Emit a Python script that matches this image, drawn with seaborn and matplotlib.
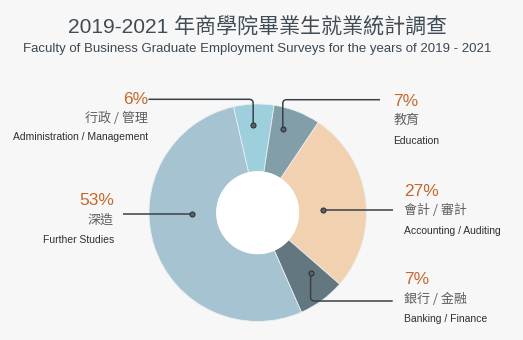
import numpy as np
import matplotlib
matplotlib.use("Agg")
import matplotlib.pyplot as plt
from matplotlib.path import Path
from matplotlib.patches import PathPatch, Circle
import seaborn as sns

# ---- data -------------------------------------------------------------
categories_en = ["Administration / Management", "Education", "Accounting / Auditing",
                 "Banking / Finance", "Further Studies"]
categories_zh = ["行政 / 管理", "教育", "會計 / 審計", "銀行 / 金融", "深造"]
shares = [6, 7, 27, 7, 53]
pct_labels = ["6%", "7%", "27%", "7%", "53%"]

title_zh = "2019-2021 年商學院畢業生就業統計調查"
subtitle_en = "Faculty of Business Graduate Employment Surveys for the years of 2019 - 2021"

# ---- style ------------------------------------------------------------
sns.set_theme(style="white")
palette = sns.color_palette(["#9dd0dc", "#819ea9", "#f2d1b0", "#637780", "#a5c3d0"])
CJK = ["Liberation Sans", "Noto Sans CJK TC", "DejaVu Sans"]
LATIN = ["Liberation Sans", "DejaVu Sans"]
plt.rcParams["font.family"] = CJK

W, H = 523, 340
fig = plt.figure(figsize=(W / 100, H / 100), dpi=100)
fig.patch.set_facecolor("#f7f7f7")
ax = fig.add_axes([0, 0, 1, 1])
ax.set_facecolor("#f7f7f7")


def Y(y):
    """Convert a top-down pixel row to the axis' bottom-up coordinate."""
    return H - y


# ---- donut ------------------------------------------------------------
cx, cy = 257.7, Y(212.7)
R_out, R_in = 108.7, 41.0
start = 102.9
ax.pie(shares, colors=palette, center=(cx, cy), radius=R_out,
       startangle=start, counterclock=False,
       wedgeprops=dict(width=R_out - R_in, linewidth=0.6, edgecolor="#e9eef0"))
ax.add_patch(Circle((cx, cy), R_in + 0.5, facecolor="white", edgecolor="none", zorder=3))

# position of each leader dot inside its slice: (fraction along the arc, radius fraction)
dot_pos = [(0.46, 0.81), (0.32, 0.80), (0.55, 0.60), (0.31, 0.74), (0.59, 0.60)]
total = float(sum(shares))
cum = np.concatenate([[0], np.cumsum(shares)])
dots = []
for i, (t, rf) in enumerate(dot_pos):
    a0 = start - 360 * cum[i] / total
    a1 = start - 360 * cum[i + 1] / total
    a = np.deg2rad(a0 + t * (a1 - a0))
    dots.append((cx + rf * R_out * np.cos(a), cy + rf * R_out * np.sin(a)))

LINE = "#3a4046"


def leader(points, r=4.0):
    """Polyline with rounded corners."""
    verts, codes = [points[0]], [Path.MOVETO]
    for k in range(1, len(points) - 1):
        p0, p1, p2 = map(np.array, points[k - 1:k + 2])
        d0 = (p1 - p0) / np.linalg.norm(p1 - p0)
        d1 = (p2 - p1) / np.linalg.norm(p2 - p1)
        verts += [tuple(p1 - d0 * r), tuple(p1), tuple(p1 + d1 * r)]
        codes += [Path.LINETO, Path.CURVE3, Path.CURVE3]
    verts.append(points[-1]); codes.append(Path.LINETO)
    ax.add_patch(PathPatch(Path(verts, codes), fill=False, lw=1.1,
                           edgecolor=LINE, zorder=4, capstyle="butt"))


d = dots
leader([d[0], (d[0][0], Y(99.3)), (148.5, Y(99.3))])
leader([d[1], (d[1][0], Y(99.7)), (380.0, Y(99.7))])
leader([d[2], (392.7, d[2][1])])
leader([d[3], (d[3][0], Y(301.0)), (392.7, Y(301.0))])
leader([d[4], (123.3, d[4][1])])
for (x, y) in dots:
    ax.plot(x, y, "o", ms=3.6, mfc="#5a6168", mec="#2e3338", mew=0.8, zorder=5)

# ---- labels -----------------------------------------------------------
label_pos = [  # (x, y of percent, y of chinese, y of english, alignment)
    (148.0, 100.0, 118.3, 137.3, "right"),
    (393.3, 101.7, 120.7, 140.7, "left"),
    (404.3, 191.7, 210.7, 231.0, "left"),
    (404.3, 280.0, 299.3, 319.3, "left"),
    (114.0, 200.7, 220.0, 240.0, "right"),
]
for i, (x, yp, yz, ye, ha) in enumerate(label_pos):
    ax.text(x, Y(yp), pct_labels[i], ha=ha, va="center", fontsize=12.5,
            color="#c4692f", family=CJK)
    ax.text(x, Y(yz), categories_zh[i], ha=ha, va="center", fontsize=9.4,
            color="#5f5f5f", family=["Noto Sans CJK TC", "DejaVu Sans"])
    ax.text(x, Y(ye), categories_en[i], ha=ha, va="center", fontsize=7.5,
            color="#2f2f2f", family=LATIN)

ax.text(W / 2 - 4, Y(27.5), title_zh, ha="center", va="center", fontsize=15.1,
        color="#414c54", family=CJK)
ax.text(W / 2 - 4, Y(49), subtitle_en, ha="center", va="center", fontsize=9.5,
        color="#3c4852", family=CJK)

ax.set_xlim(0, W)
ax.set_ylim(0, H)
ax.set_aspect("equal")
ax.axis("off")
fig.savefig("out.png", dpi=100, facecolor=fig.get_facecolor())
